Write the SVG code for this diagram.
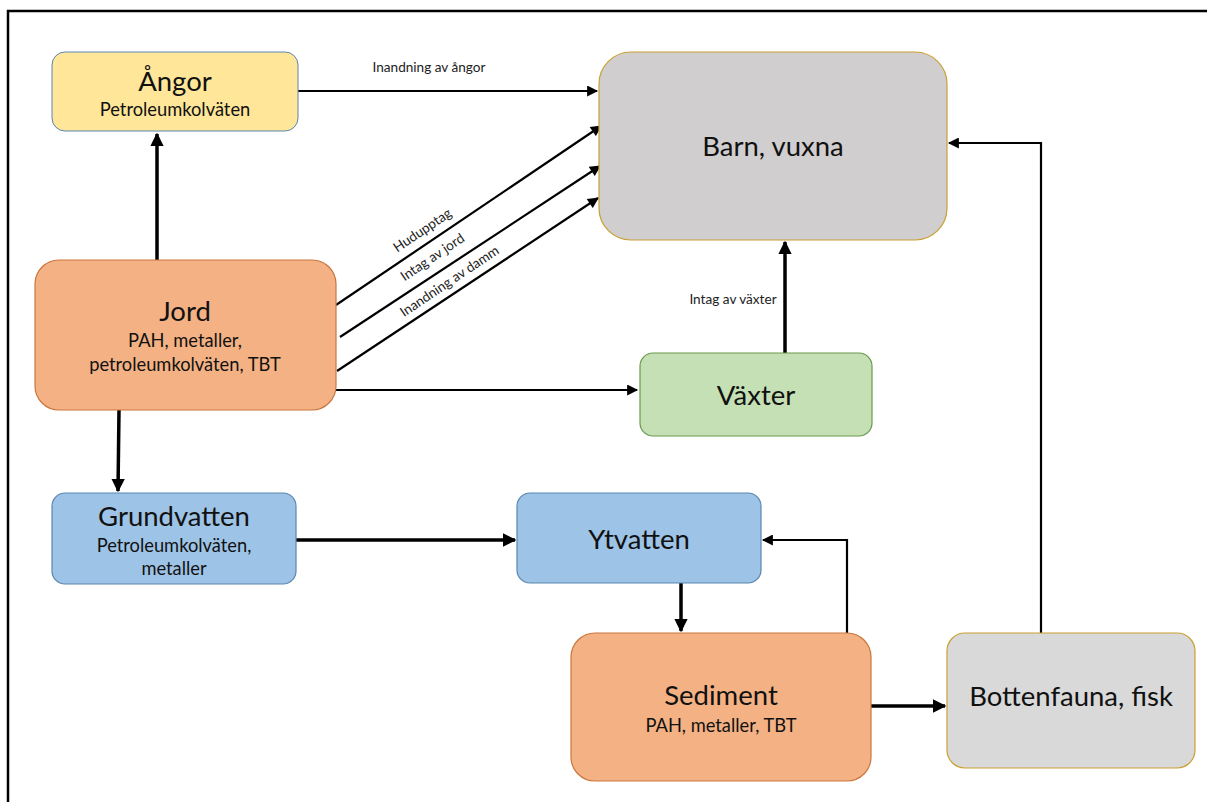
<svg xmlns="http://www.w3.org/2000/svg" width="1207" height="802" viewBox="0 0 1207 802">
<style>
text{font-family:Lato,"Open Sans","Liberation Sans",sans-serif;fill:#111;text-anchor:middle}
.t{font-size:27.5px}
.s{font-size:18.3px}
.l{font-size:13.6px;fill:#222}
.c{fill:none;stroke:#000;stroke-width:2.2}
.k{fill:none;stroke:#000;stroke-width:3.5}
</style>
<defs>
<marker id="a" viewBox="0 0 10 10" refX="9" refY="5" markerWidth="5.5" markerHeight="5" orient="auto" markerUnits="strokeWidth"><path d="M0,0L10,5L0,10z" fill="#000"/></marker>
<marker id="b" viewBox="0 0 10 10" refX="9" refY="5" markerWidth="3.8" markerHeight="3.8" orient="auto" markerUnits="strokeWidth"><path d="M0,0L10,5L0,10z" fill="#000"/></marker>
</defs>
<rect width="1207" height="802" fill="#fff"/>
<path d="M8,802V11H1207" fill="none" stroke="#000" stroke-width="2.5"/>
<g id="connectors">
<path class="c" d="M298,91H597" marker-end="url(#a)"/>
<text class="l" x="429" y="72">Inandning av ångor</text>
<path class="k" d="M157,260V134" marker-end="url(#b)"/>
<path class="c" d="M336,305L601,126" marker-end="url(#a)"/>
<path class="c" d="M340,337L600,166" marker-end="url(#a)"/>
<path class="c" d="M337,371L598,198" marker-end="url(#a)"/>
<text class="l" transform="translate(425,234) rotate(-34)">Hudupptag</text>
<text class="l" transform="translate(435,261) rotate(-34)">Intag av jord</text>
<text class="l" transform="translate(452,285) rotate(-34)">Inandning av damm</text>
<path class="c" d="M336,390H637" marker-end="url(#a)"/>
<path class="k" d="M785,353V242" marker-end="url(#b)"/>
<text class="l" x="733" y="304">Intag av växter</text>
<path class="k" d="M119,410L118,491" marker-end="url(#b)"/>
<path class="k" d="M296,540H515" marker-end="url(#b)"/>
<path class="k" d="M681,583V631" marker-end="url(#b)"/>
<path class="c" d="M847,633V540H763" marker-end="url(#a)"/>
<path class="k" d="M871,706H945" marker-end="url(#b)"/>
<path class="c" d="M1041,633V143H949" marker-end="url(#a)"/>
</g>
<g id="angor">
<rect x="52" y="52" width="246" height="79" rx="13" fill="#FFE699" stroke="#5B86B0" stroke-width="1"/>
<text class="t" x="175" y="91">Ångor</text>
<text class="s" x="175" y="116">Petroleumkolväten</text>
</g>
<g id="barn">
<rect x="599" y="52" width="348" height="188" rx="32" fill="#D0CECE" stroke="#C9A033" stroke-width="1.2"/>
<text class="t" x="773" y="156">Barn, vuxna</text>
</g>
<g id="jord">
<rect x="35" y="260" width="301" height="150" rx="24" fill="#F4B183" stroke="#C8773E" stroke-width="1.2"/>
<text class="t" x="185" y="321">Jord</text>
<text class="s" x="185" y="347">PAH, metaller,</text>
<text class="s" x="185" y="371">petroleumkolväten, TBT</text>
</g>
<g id="vaxter">
<rect x="640" y="353" width="232" height="83" rx="13" fill="#C5E0B4" stroke="#6A9A4F" stroke-width="1.2"/>
<text class="t" x="756" y="405">Växter</text>
</g>
<g id="grundvatten">
<rect x="52" y="493" width="244" height="91" rx="13" fill="#9DC3E6" stroke="#5B86B0" stroke-width="1.2"/>
<text class="t" x="174" y="526">Grundvatten</text>
<text class="s" x="174" y="552">Petroleumkolväten,</text>
<text class="s" x="174" y="575">metaller</text>
</g>
<g id="ytvatten">
<rect x="517" y="493" width="244" height="90" rx="13" fill="#9DC3E6" stroke="#5B86B0" stroke-width="1.2"/>
<text class="t" x="639" y="549">Ytvatten</text>
</g>
<g id="sediment">
<rect x="571" y="633" width="300" height="148" rx="24" fill="#F4B183" stroke="#C8773E" stroke-width="1.2"/>
<text class="t" x="721" y="705">Sediment</text>
<text class="s" x="721" y="732">PAH, metaller, TBT</text>
</g>
<g id="bottenfauna">
<rect x="947" y="633" width="248" height="135" rx="18" fill="#D9D9D9" stroke="#C9A033" stroke-width="1.2"/>
<text class="t" x="1071" y="706">Bottenfauna, fisk</text>
</g>
</svg>
